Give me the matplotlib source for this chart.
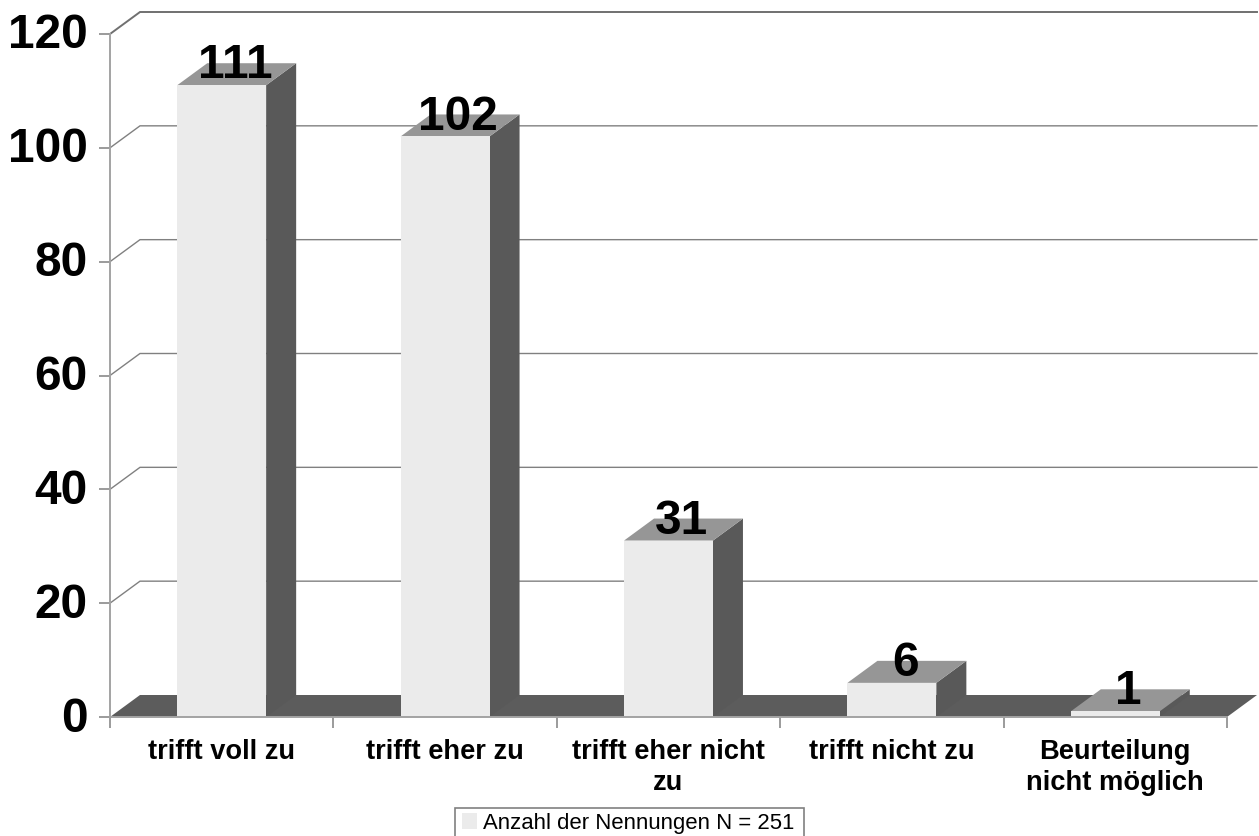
import matplotlib
matplotlib.use("Agg")
import matplotlib.pyplot as plt
from matplotlib.patches import Polygon, Rectangle
from matplotlib.transforms import ScaledTranslation

plt.rcParams['font.family'] = ['Liberation Sans', 'DejaVu Sans']

categories = ["trifft voll zu", "trifft eher zu", "trifft eher nicht\nzu", "trifft nicht zu", "Beurteilung\nnicht möglich"]
values = [111, 102, 31, 6, 1]
y_ticks = [0, 20, 40, 60, 80, 100, 120]
legend_label = "Anzahl der Nennungen N = 251"

W, H = 1259, 836
L, R, T, B = 110, 1227, 34, 717
DX_PX, DY_PX = 30, 22
BAR_W = 0.398

FRONT, SIDE, TOP, FLOOR = "#EBEBEB", "#595959", "#969696", "#5C5C5C"
GRID, AXIS = "#808080", "#A3A3A3"

fig = plt.figure(figsize=(W / 100, H / 100), dpi=100, facecolor="white")
ax = fig.add_axes([L / W, 1 - B / H, (R - L) / W, (B - T) / H])
ax.set_xlim(-0.5, len(categories) - 0.5)
ax.set_ylim(0, 120)
ax.patch.set_visible(False)

dx = DX_PX / ((R - L) / len(categories))
dy = DY_PX / ((B - T) / 120)
x0, x1 = -0.5, len(categories) - 0.5

# back wall gridlines with their diagonal on the side wall
for v in y_ticks[1:]:
    lw = 1.4 if v == 120 else 1.0
    ax.plot([x0, x0 + dx, x1 + dx], [v, v + dy, v + dy], color=GRID if v != 120 else "#707070",
            lw=lw, clip_on=False, zorder=1, solid_joinstyle="miter")

# floor
ax.add_patch(Polygon([(x0, 0), (x0 + dx, dy), (x1 + dx, dy), (x1, 0)], closed=True,
                     facecolor=FLOOR, edgecolor="none", clip_on=False, zorder=2))

# bars
bars = ax.bar(range(len(values)), values, width=BAR_W, color=FRONT, zorder=5, label=legend_label)
for i, v in enumerate(values):
    a, b = i - BAR_W / 2, i + BAR_W / 2
    ax.add_patch(Polygon([(b, 0), (b + dx, dy), (b + dx, v + dy), (b, v)], closed=True,
                         facecolor=SIDE, edgecolor="none", clip_on=False, zorder=4))
    ax.add_patch(Polygon([(a, v), (a + dx, v + dy), (b + dx, v + dy), (b, v)], closed=True,
                         facecolor=TOP, edgecolor="none", clip_on=False, zorder=4))
    ax.text(i + dx / 2 - 0.008, v + 1.2, str(v), ha="center", va="baseline", fontsize=34.5,
            fontweight="bold", color="black", zorder=8, clip_on=False)

# axes
for s in ("top", "right"):
    ax.spines[s].set_visible(False)
for s in ("left", "bottom"):
    ax.spines[s].set_color(AXIS)
    ax.spines[s].set_linewidth(1.4)
    ax.spines[s].set_zorder(6)
ax.set_yticks(y_ticks)
ax.tick_params(axis="y", length=8, width=1.1, color=GRID, pad=8, labelsize=34.5)
up = ScaledTranslation(0, 3 / 100, fig.dpi_scale_trans)
for t in ax.get_yticklabels():
    t.set_fontweight("bold")
    t.set_transform(t.get_transform() + up)
ax.set_xticks([i - 0.5 for i in range(len(categories) + 1)])
ax.tick_params(axis="x", which="major", length=8, width=1.1, color=GRID, labelbottom=False)
ax.set_xticks(list(range(len(categories))), labels=categories, minor=True)
ax.tick_params(axis="x", which="minor", length=0, pad=16, labelsize=19.6)
for t in ax.get_xticklabels(minor=True):
    t.set_fontweight("bold")
    t.set_linespacing(1.25)

# legend
fig.add_artist(Rectangle((455 / W, 1 - 837 / H), 349 / W, 29 / H, transform=fig.transFigure,
                         facecolor="white", edgecolor="#808080", linewidth=1.2, zorder=-1))
leg = ax.legend(handles=[bars], loc="center left", bbox_to_anchor=(462 / W, 1 - 823 / H),
                bbox_transform=fig.transFigure, frameon=False, fontsize=15.9, borderpad=0,
                borderaxespad=0, handlelength=0.68, handletextpad=0.27)

fig.savefig("out.png", dpi=100)
